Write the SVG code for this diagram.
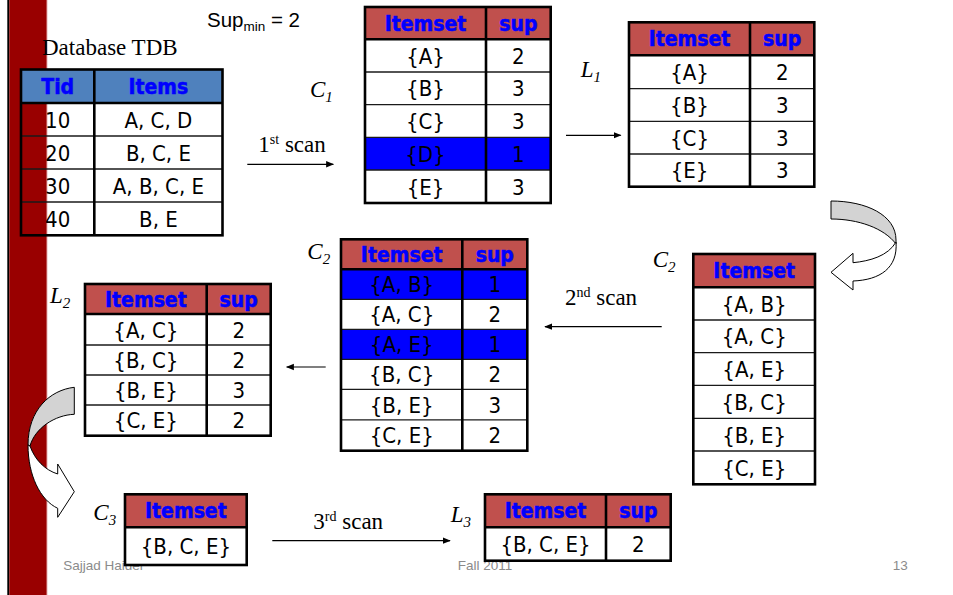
<svg xmlns="http://www.w3.org/2000/svg" width="953" height="595" viewBox="0 0 953 595">
<style>
.cell{font-family:"DejaVu Sans Condensed","DejaVu Sans",sans-serif;font-size:22px;fill:#000;text-anchor:middle}
.hd{font-family:"DejaVu Sans Condensed","DejaVu Sans",sans-serif;font-size:21px;font-weight:bold;fill:#0000FF;stroke:#0000FF;stroke-width:0.5;text-anchor:middle}
.ol{fill:none;stroke:#000;stroke-width:2.6}
.tk{stroke:#000;stroke-width:2.6}
.rl{stroke:#1a1a1a;stroke-width:1.3}
.rh{fill:#C0504D}
.bh{fill:#4F81BD}
.hi{fill:#0000FF}
.wb{fill:#fff}
.lbl{font-family:"Liberation Serif",serif;font-size:23px;font-style:italic;fill:#000}
.sub{font-size:15px}
.tm{font-family:"Liberation Serif",serif;font-size:23px;fill:#000}
.ft{font-family:"Liberation Sans",sans-serif;font-size:13.5px;fill:#8B8B8B}
.cn{stroke:#000;stroke-width:1.2;fill:none;marker-end:url(#ah)}
.cg{fill:#D3D3D3;stroke:#000;stroke-width:1}
.cw{fill:#fff;stroke:#000;stroke-width:1}
</style>
<defs>
<marker id="ah" viewBox="0 0 10 10" refX="9" refY="5" markerWidth="8" markerHeight="8" markerUnits="userSpaceOnUse" orient="auto">
<path d="M0,1 L10,5 L0,9 Z" fill="#000"/>
</marker>
</defs>
<rect x="0" y="0" width="953" height="595" fill="#fff"/>
<rect x="7.3" y="0" width="2" height="595" fill="#000"/>
<rect x="9.3" y="0" width="37.5" height="595" fill="#990000"/>
<rect x="46.8" y="0" width="1" height="595" fill="#f2d0d0"/>

<g id="footer">
<text class="ft" x="63.3" y="570">Sajjad Haider</text>
<text class="ft" x="457.7" y="570">Fall 2011</text>
<text class="ft" x="892.7" y="570">13</text>
</g>

<g id="supmin">
<text x="207" y="27" font-family="Liberation Sans, sans-serif" font-size="20.5px" fill="#000">Sup<tspan font-size="13.5px" dy="4">min</tspan><tspan dy="-4"> = 2</tspan></text>
</g>

<g id="tdb">
<text class="tm" x="42" y="55">Database TDB</text>
<rect class="bh" x="21" y="69.5" width="201.5" height="33.5"/>
<line class="rl" x1="21" y1="136" x2="222.5" y2="136"/>
<line class="rl" x1="21" y1="169" x2="222.5" y2="169"/>
<line class="rl" x1="21" y1="202" x2="222.5" y2="202"/>
<line class="tk" x1="21" y1="103" x2="222.5" y2="103"/>
<line class="tk" x1="94.3" y1="69.5" x2="94.3" y2="235.3"/>
<rect class="ol" x="21" y="69.5" width="201.5" height="165.8"/>
<text class="hd" x="57.7" y="94">Tid</text>
<text class="hd" x="158.4" y="94">Items</text>
<text class="cell" x="57.7" y="127.5">10</text><text class="cell" x="158.4" y="127.5">A, C, D</text>
<text class="cell" x="57.7" y="160.5">20</text><text class="cell" x="158.4" y="160.5">B, C, E</text>
<text class="cell" x="57.7" y="193.5">30</text><text class="cell" x="158.4" y="193.5">A, B, C, E</text>
<text class="cell" x="57.7" y="226.7">40</text><text class="cell" x="158.4" y="226.7">B, E</text>
</g>

<g id="c1">
<text class="lbl" x="310" y="96.7">C<tspan class="sub" dy="5">1</tspan></text>
<rect class="wb" x="365" y="7" width="185.7" height="196"/>
<rect class="rh" x="365" y="7" width="185.7" height="32.3"/>
<rect class="hi" x="365" y="137.3" width="185.7" height="32.7"/>
<line class="rl" x1="365" y1="72" x2="550.7" y2="72"/>
<line class="rl" x1="365" y1="104.7" x2="550.7" y2="104.7"/>
<line class="rl" x1="365" y1="137.3" x2="550.7" y2="137.3"/>
<line class="rl" x1="365" y1="170" x2="550.7" y2="170"/>
<line class="tk" x1="365" y1="39.3" x2="550.7" y2="39.3"/>
<line class="tk" x1="486" y1="7" x2="486" y2="203"/>
<rect class="ol" x="365" y="7" width="185.7" height="196"/>
<text class="hd" x="425.5" y="30.8">Itemset</text><text class="hd" x="518.4" y="30.8">sup</text>
<text class="cell" x="425.5" y="63.7">{A}</text><text class="cell" x="518.4" y="63.7">2</text>
<text class="cell" x="425.5" y="96.4">{B}</text><text class="cell" x="518.4" y="96.4">3</text>
<text class="cell" x="425.5" y="129">{C}</text><text class="cell" x="518.4" y="129">3</text>
<text class="cell" x="425.5" y="161.7">{D}</text><text class="cell" x="518.4" y="161.7">1</text>
<text class="cell" x="425.5" y="194.5">{E}</text><text class="cell" x="518.4" y="194.5">3</text>
</g>

<g id="l1">
<text class="lbl" x="580.7" y="77.3">L<tspan class="sub" dy="5">1</tspan></text>
<rect class="wb" x="629" y="22.3" width="185.3" height="164.4"/>
<rect class="rh" x="629" y="22.3" width="185.3" height="33"/>
<line class="rl" x1="629" y1="88.7" x2="814.3" y2="88.7"/>
<line class="rl" x1="629" y1="121.3" x2="814.3" y2="121.3"/>
<line class="rl" x1="629" y1="154" x2="814.3" y2="154"/>
<line class="tk" x1="629" y1="55.3" x2="814.3" y2="55.3"/>
<line class="tk" x1="750" y1="22.3" x2="750" y2="186.7"/>
<rect class="ol" x="629" y="22.3" width="185.3" height="164.4"/>
<text class="hd" x="689.5" y="46.4">Itemset</text><text class="hd" x="782.2" y="46.4">sup</text>
<text class="cell" x="689.5" y="80">{A}</text><text class="cell" x="782.2" y="80">2</text>
<text class="cell" x="689.5" y="113">{B}</text><text class="cell" x="782.2" y="113">3</text>
<text class="cell" x="689.5" y="145.7">{C}</text><text class="cell" x="782.2" y="145.7">3</text>
<text class="cell" x="689.5" y="178.4">{E}</text><text class="cell" x="782.2" y="178.4">3</text>
</g>

<g id="c2cand">
<text class="lbl" x="652.7" y="266.7">C<tspan class="sub" dy="5">2</tspan></text>
<rect class="wb" x="693.3" y="254" width="121.7" height="230.3"/>
<rect class="rh" x="693.3" y="254" width="121.7" height="33.3"/>
<line class="rl" x1="693.3" y1="320" x2="815" y2="320"/>
<line class="rl" x1="693.3" y1="352.7" x2="815" y2="352.7"/>
<line class="rl" x1="693.3" y1="385.3" x2="815" y2="385.3"/>
<line class="rl" x1="693.3" y1="418.3" x2="815" y2="418.3"/>
<line class="rl" x1="693.3" y1="451" x2="815" y2="451"/>
<line class="tk" x1="693.3" y1="287.3" x2="815" y2="287.3"/>
<rect class="ol" x="693.3" y="254" width="121.7" height="230.3"/>
<text class="hd" x="754.2" y="278.3">Itemset</text>
<text class="cell" x="754.2" y="311.7">{A, B}</text>
<text class="cell" x="754.2" y="344.4">{A, C}</text>
<text class="cell" x="754.2" y="377">{A, E}</text>
<text class="cell" x="754.2" y="409.8">{B, C}</text>
<text class="cell" x="754.2" y="442.7">{B, E}</text>
<text class="cell" x="754.2" y="475.7">{C, E}</text>
</g>

<g id="c2count">
<text class="lbl" x="307.3" y="259">C<tspan class="sub" dy="5">2</tspan></text>
<rect class="wb" x="341" y="239.3" width="186.3" height="211.4"/>
<rect class="rh" x="341" y="239.3" width="186.3" height="30"/>
<rect class="hi" x="341" y="269.3" width="186.3" height="30"/>
<rect class="hi" x="341" y="329.3" width="186.3" height="30"/>
<line class="rl" x1="341" y1="299.3" x2="527.3" y2="299.3"/>
<line class="rl" x1="341" y1="329.3" x2="527.3" y2="329.3"/>
<line class="rl" x1="341" y1="359.3" x2="527.3" y2="359.3"/>
<line class="rl" x1="341" y1="389.3" x2="527.3" y2="389.3"/>
<line class="rl" x1="341" y1="419.8" x2="527.3" y2="419.8"/>
<line class="tk" x1="341" y1="269.3" x2="527.3" y2="269.3"/>
<line class="tk" x1="462.3" y1="239.3" x2="462.3" y2="450.7"/>
<rect class="ol" x="341" y="239.3" width="186.3" height="211.4"/>
<text class="hd" x="401.7" y="261.9">Itemset</text><text class="hd" x="494.8" y="261.9">sup</text>
<text class="cell" x="401.7" y="292.3">{A, B}</text><text class="cell" x="494.8" y="292.3">1</text>
<text class="cell" x="401.7" y="322.3">{A, C}</text><text class="cell" x="494.8" y="322.3">2</text>
<text class="cell" x="401.7" y="352.3">{A, E}</text><text class="cell" x="494.8" y="352.3">1</text>
<text class="cell" x="401.7" y="382.3">{B, C}</text><text class="cell" x="494.8" y="382.3">2</text>
<text class="cell" x="401.7" y="412.6">{B, E}</text><text class="cell" x="494.8" y="412.6">3</text>
<text class="cell" x="401.7" y="443.3">{C, E}</text><text class="cell" x="494.8" y="443.3">2</text>
</g>

<g id="l2">
<text class="lbl" x="50" y="303.3">L<tspan class="sub" dy="5">2</tspan></text>
<rect class="wb" x="85" y="284" width="185.7" height="151.7"/>
<rect class="rh" x="85" y="284" width="185.7" height="30"/>
<line class="rl" x1="85" y1="345" x2="270.7" y2="345"/>
<line class="rl" x1="85" y1="375" x2="270.7" y2="375"/>
<line class="rl" x1="85" y1="405" x2="270.7" y2="405"/>
<line class="tk" x1="85" y1="314" x2="270.7" y2="314"/>
<line class="tk" x1="206.7" y1="284" x2="206.7" y2="435.7"/>
<rect class="ol" x="85" y="284" width="185.7" height="151.7"/>
<text class="hd" x="145.9" y="306.6">Itemset</text><text class="hd" x="238.7" y="306.6">sup</text>
<text class="cell" x="145.9" y="337.5">{A, C}</text><text class="cell" x="238.7" y="337.5">2</text>
<text class="cell" x="145.9" y="368">{B, C}</text><text class="cell" x="238.7" y="368">2</text>
<text class="cell" x="145.9" y="398">{B, E}</text><text class="cell" x="238.7" y="398">3</text>
<text class="cell" x="145.9" y="428.4">{C, E}</text><text class="cell" x="238.7" y="428.4">2</text>
</g>

<g id="c3">
<text class="lbl" x="93.3" y="520">C<tspan class="sub" dy="5">3</tspan></text>
<rect class="wb" x="125" y="494.3" width="121.7" height="70.7"/>
<rect class="rh" x="125" y="494.3" width="121.7" height="33"/>
<line class="tk" x1="125" y1="527.3" x2="246.7" y2="527.3"/>
<rect class="ol" x="125" y="494.3" width="121.7" height="70.7"/>
<text class="hd" x="185.9" y="518.4">Itemset</text>
<text class="cell" x="185.9" y="554.2">{B, C, E}</text>
</g>

<g id="l3">
<text class="lbl" x="450.7" y="521.7">L<tspan class="sub" dy="5">3</tspan></text>
<rect class="wb" x="485" y="494.3" width="185.7" height="66.4"/>
<rect class="rh" x="485" y="494.3" width="185.7" height="33"/>
<line class="tk" x1="485" y1="527.3" x2="670.7" y2="527.3"/>
<line class="tk" x1="606" y1="494.3" x2="606" y2="560.7"/>
<rect class="ol" x="485" y="494.3" width="185.7" height="66.4"/>
<text class="hd" x="545.5" y="518.4">Itemset</text><text class="hd" x="638.4" y="518.4">sup</text>
<text class="cell" x="545.5" y="552">{B, C, E}</text><text class="cell" x="638.4" y="552">2</text>
</g>

<g id="connectors">
<line class="cn" x1="247.3" y1="164.3" x2="333.3" y2="164.3"/>
<text class="tm" x="258.3" y="151.7">1<tspan font-size="14px" dy="-8">st</tspan><tspan dy="8"> scan</tspan></text>
<line class="cn" x1="566" y1="135.3" x2="620.7" y2="135.3"/>
<line class="cn" x1="661.7" y1="326.7" x2="545" y2="326.7"/>
<text class="tm" x="565" y="305">2<tspan font-size="14px" dy="-8">nd</tspan><tspan dy="8"> scan</tspan></text>
<line class="cn" x1="325.7" y1="367" x2="286.7" y2="367"/>
<line class="cn" x1="272.3" y1="540.7" x2="450" y2="540.7"/>
<text class="tm" x="313.3" y="529.3">3<tspan font-size="14px" dy="-8">rd</tspan><tspan dy="8"> scan</tspan></text>
<g id="curve1">
<path class="cg" d="M831,201 C866,201 896,215 896,240 L896,244 C884,228 858,219 831,219 Z"/>
<path class="cw" d="M896,242 C898,268 880,280 853,281 L853,290 L831,272.3 L853,253.3 L853,262.7 C870,261 888,256 896,242 Z"/>
</g>
<g id="curve2">
<path class="cg" d="M74.3,387.3 C50,390 28,410 28,445 L30,446 C35,428 55,415 74.3,414.3 Z"/>
<path class="cw" d="M28,445 C28,475 40,500 57.7,508.3 L57.7,517.3 L74.3,491.7 L57.7,464 L57.7,474 C45,470 35,460 30,446 Z"/>
</g>
</g>
</svg>
